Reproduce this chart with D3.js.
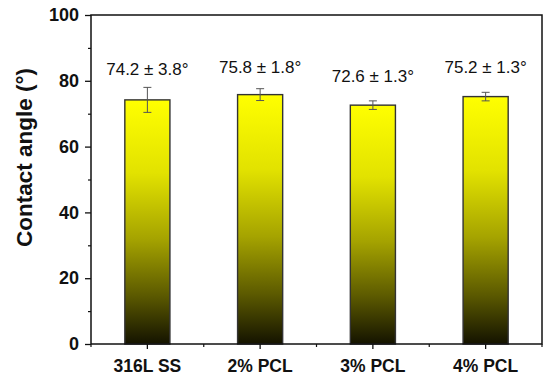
<!DOCTYPE html>
<html>
<head>
<meta charset="utf-8">
<script src="https://cdn.jsdelivr.net/npm/d3@7"></script>
<style>
  body { margin: 0; background: #fff; }
  text { font-family: "Liberation Sans", Arial, sans-serif; }
</style>
</head>
<body>
<div id="chart"></div>
<script>
// data
var samples = ["316L SS", "2% PCL", "3% PCL", "4% PCL"];
var angles = [74.2, 75.8, 72.6, 75.2];
var errors = [3.8, 1.8, 1.3, 1.3];
var valueLabels = ["74.2 ± 3.8°", "75.8 ± 1.8°", "72.6 ± 1.3°", "75.2 ± 1.3°"];
var labelLevels = [81.8, 82.4, 79.6, 82.4];
var yTicks = [0, 20, 40, 60, 80, 100];
var yMinorTicks = [10, 30, 50, 70, 90];

var svgWidth = 550;
var svgHeight = 381;

var margin = { top: 15, right: 8, bottom: 37, left: 91 };
var width = svgWidth - margin.left - margin.right;
var height = svgHeight - margin.top - margin.bottom;

var data = samples.map(function(s, i) {
  return { name: s, angle: angles[i], err: errors[i], label: valueLabels[i], level: labelLevels[i] };
});

var svg = d3.select("#chart")
  .append("svg")
  .attr("width", svgWidth)
  .attr("height", svgHeight);

svg.append("rect")
  .attr("width", svgWidth)
  .attr("height", svgHeight)
  .attr("fill", "#fff");

// yellow to black gradient for the bars
var grad = svg.append("defs").append("linearGradient")
  .attr("id", "barFill")
  .attr("x1", 0).attr("y1", 0)
  .attr("x2", 0).attr("y2", 1);
grad.append("stop").attr("offset", "0%").attr("stop-color", "#ffff00");
grad.append("stop").attr("offset", "30%").attr("stop-color", "#e2e200");
grad.append("stop").attr("offset", "57%").attr("stop-color", "#a5a300");
grad.append("stop").attr("offset", "80%").attr("stop-color", "#5c5a00");
grad.append("stop").attr("offset", "100%").attr("stop-color", "#141300");

var chartGroup = svg.append("g")
  .attr("transform", `translate(${margin.left}, ${margin.top})`);

// scales
var xBandScale = d3.scaleBand()
  .domain(samples)
  .range([0, width])
  .padding(0);

var barWidth = xBandScale.bandwidth() * 0.4;

var yLinearScale = d3.scaleLinear()
  .domain([0, 100])
  .range([height, 0]);

// bars
chartGroup.append("g").selectAll("rect")
  .data(data)
  .enter()
  .append("rect")
  .attr("x", d => xBandScale(d.name) + xBandScale.bandwidth() / 2 - barWidth / 2)
  .attr("y", d => yLinearScale(d.angle))
  .attr("width", barWidth)
  .attr("height", d => height - yLinearScale(d.angle))
  .attr("fill", "url(#barFill)")
  .attr("stroke", "#333")
  .attr("stroke-width", 1.4);

// error bars
var errGroup = chartGroup.append("g")
  .attr("stroke", "#555")
  .attr("stroke-width", 1);

errGroup.selectAll("line.stem")
  .data(data)
  .enter()
  .append("line")
  .attr("x1", d => xBandScale(d.name) + xBandScale.bandwidth() / 2)
  .attr("x2", d => xBandScale(d.name) + xBandScale.bandwidth() / 2)
  .attr("y1", d => yLinearScale(d.angle + d.err))
  .attr("y2", d => yLinearScale(d.angle - d.err));

[1, -1].forEach(function(sign) {
  errGroup.selectAll(null)
    .data(data)
    .enter()
    .append("line")
    .attr("x1", d => xBandScale(d.name) + xBandScale.bandwidth() / 2 - 4)
    .attr("x2", d => xBandScale(d.name) + xBandScale.bandwidth() / 2 + 4)
    .attr("y1", d => yLinearScale(d.angle + sign * d.err))
    .attr("y2", d => yLinearScale(d.angle + sign * d.err));
});

// value labels
chartGroup.selectAll(null)
  .data(data)
  .enter()
  .append("text")
  .text(d => d.label)
  .attr("x", d => xBandScale(d.name) + xBandScale.bandwidth() / 2)
  .attr("y", d => yLinearScale(d.level))
  .attr("text-anchor", "middle")
  .attr("font-size", 17)
  .attr("fill", "#111");

// frame
chartGroup.append("rect")
  .attr("width", width)
  .attr("height", height)
  .attr("fill", "none")
  .attr("stroke", "#111")
  .attr("stroke-width", 1.5);

// axes
var leftAxis = d3.axisLeft(yLinearScale)
  .tickValues(yTicks)
  .tickSize(6)
  .tickPadding(6);

var yAxisG = chartGroup.append("g").call(leftAxis);
yAxisG.select(".domain").remove();
yAxisG.selectAll("line").attr("stroke", "#111").attr("stroke-width", 1.3);
yAxisG.selectAll("text")
  .attr("font-size", 18)
  .attr("font-weight", "bold")
  .attr("font-family", "'Liberation Sans', Arial, sans-serif")
  .attr("fill", "#111");

var yMinorG = chartGroup.append("g").call(
  d3.axisLeft(yLinearScale).tickValues(yMinorTicks).tickSize(3).tickFormat(""));
yMinorG.select(".domain").remove();
yMinorG.selectAll("line").attr("stroke", "#111").attr("stroke-width", 1.2);

var bottomAxis = d3.axisBottom(xBandScale)
  .tickSize(5)
  .tickPadding(11);

var xAxisG = chartGroup.append("g")
  .attr("transform", `translate(0, ${height})`)
  .call(bottomAxis);
xAxisG.select(".domain").remove();
xAxisG.selectAll("line").attr("stroke", "#111").attr("stroke-width", 1.3);
xAxisG.selectAll("text")
  .attr("font-size", 17.5)
  .attr("font-weight", "bold")
  .attr("font-family", "'Liberation Sans', Arial, sans-serif")
  .attr("fill", "#111");

// minor ticks at band edges
var edges = samples.map(s => xBandScale(s)).concat([width]);
chartGroup.append("g").selectAll("line")
  .data(edges)
  .enter()
  .append("line")
  .attr("x1", d => d)
  .attr("x2", d => d)
  .attr("y1", height)
  .attr("y2", height + 3)
  .attr("stroke", "#111")
  .attr("stroke-width", 1.2);

// axis title
svg.append("text")
  .attr("transform", "translate(32, 247) rotate(-90)")
  .attr("font-size", 22.5)
  .attr("font-weight", "bold")
  .attr("fill", "#111")
  .text("Contact angle (°)");
</script>
</body>
</html>
